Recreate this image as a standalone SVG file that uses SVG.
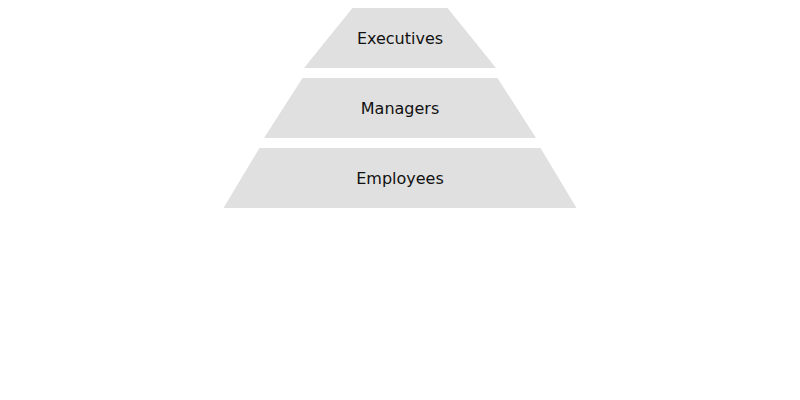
<svg xmlns="http://www.w3.org/2000/svg" width="800" height="400" viewBox="0 0 800 400">
<style>
.tier{fill:#e0e0e0;stroke:none}
.lbl{font-family:"DejaVu Sans",sans-serif;font-size:16px;fill:#111;text-anchor:middle}
</style>
<rect width="800" height="400" fill="#fff"/>
<g id="executives">
<polygon class="tier" points="352.5,8 447.5,8 496,68 304,68"/>
<text class="lbl" x="400" y="43.5">Executives</text>
</g>
<g id="managers">
<polygon class="tier" points="302.5,78 497.5,78 536,138 264,138"/>
<text class="lbl" x="400" y="113.5">Managers</text>
</g>
<g id="employees">
<polygon class="tier" points="259.5,148 540.5,148 576.5,208 223.5,208"/>
<text class="lbl" x="400" y="183.5">Employees</text>
</g>
<g id="connectors"></g>
</svg>
